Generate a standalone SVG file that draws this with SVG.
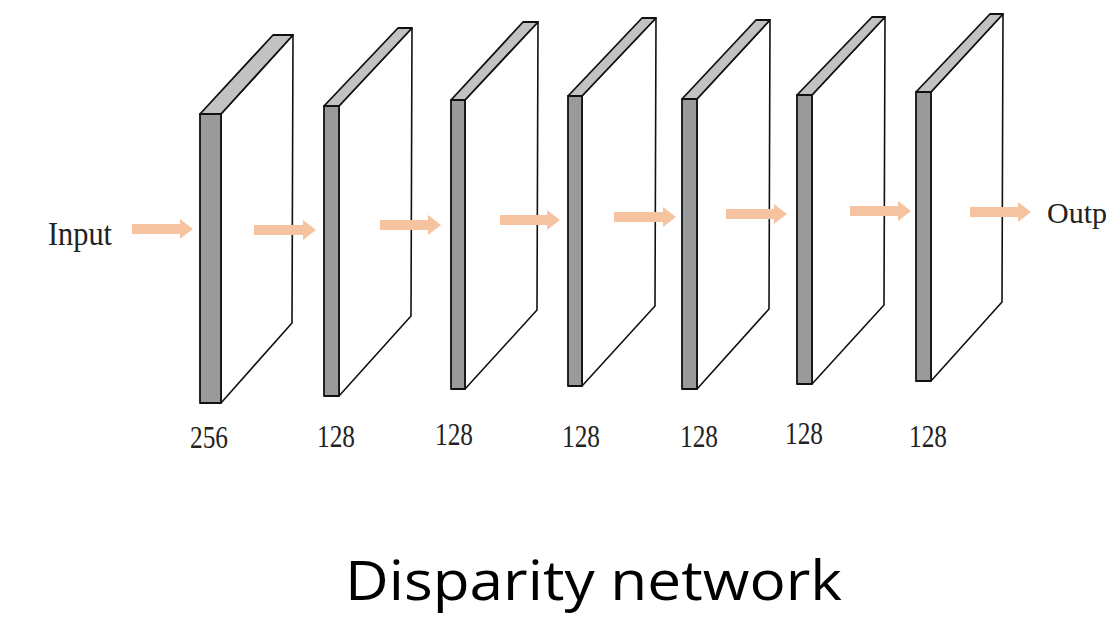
<svg xmlns="http://www.w3.org/2000/svg" width="1109" height="617" viewBox="0 0 1109 617">
<style>
.side{fill:#9a9a9a;stroke:#111;stroke-width:1.8;stroke-linejoin:round}
.top{fill:#c2c2c2;stroke:#111;stroke-width:1.8;stroke-linejoin:round}
.face{fill:#fff;stroke:#111;stroke-width:1.6;stroke-linejoin:round}
.arr{fill:#f6c3a0;stroke:none}
.lbl{font-family:"Liberation Serif","Times New Roman",serif;font-size:31px;fill:#222}
.io{font-family:"Liberation Serif","Times New Roman",serif;font-size:33px;fill:#222}
.out{font-family:"Liberation Serif","Times New Roman",serif;font-size:30px;fill:#222}
.title{font-family:"Open Sans","Liberation Sans",sans-serif;font-size:54px;fill:#000}
</style>
<rect width="1109" height="617" fill="#fff"/>
<g id="layer1">
<polygon class="face" points="221,114 293,35 292,323 221,403"/>
<polygon class="top" points="200,114 221,114 293,35 273,35"/>
<rect class="side" x="200" y="114" width="21" height="289"/>
</g>
<g id="layer2">
<polygon class="face" points="339,106 412,28 411,316 339,396"/>
<polygon class="top" points="324,106 339,106 412,28 398,28"/>
<rect class="side" x="324" y="106" width="15" height="290"/>
</g>
<g id="layer3">
<polygon class="face" points="465,100 538,22 537,310 465,389"/>
<polygon class="top" points="451,100 465,100 538,22 523,22"/>
<rect class="side" x="451" y="100" width="14" height="289"/>
</g>
<g id="layer4">
<polygon class="face" points="582,96 656,18 655,306 582,386"/>
<polygon class="top" points="568,96 582,96 656,18 642,18"/>
<rect class="side" x="568" y="96" width="14" height="290"/>
</g>
<g id="layer5">
<polygon class="face" points="697,99 770,20 769,309 697,389"/>
<polygon class="top" points="682,99 697,99 770,20 756,20"/>
<rect class="side" x="682" y="99" width="15" height="290"/>
</g>
<g id="layer6">
<polygon class="face" points="812,95 885,17 884,305 812,384"/>
<polygon class="top" points="797,95 812,95 885,17 872,17"/>
<rect class="side" x="797" y="95" width="15" height="289"/>
</g>
<g id="layer7">
<polygon class="face" points="931,92 1003,14 1002,302 931,381"/>
<polygon class="top" points="916,92 931,92 1003,14 990,14"/>
<rect class="side" x="916" y="92" width="15" height="289"/>
</g>
<g id="connectors">
<path class="arr" d="M132 224 H180 V219 L193 229 L180 239 V234 H132 Z"/>
<path class="arr" d="M254 225 H303 V220 L316 230 L303 240 V235 H254 Z"/>
<path class="arr" d="M380 220 H428 V215 L441 225 L428 235 V230 H380 Z"/>
<path class="arr" d="M500 215 H547 V210 L560 220 L547 230 V225 H500 Z"/>
<path class="arr" d="M614 212 H663 V207 L676 217 L663 227 V222 H614 Z"/>
<path class="arr" d="M726 209 H774 V204 L787 214 L774 224 V219 H726 Z"/>
<path class="arr" d="M850 206 H898 V201 L911 211 L898 221 V216 H850 Z"/>
<path class="arr" d="M970 207 H1018 V202 L1031 212 L1018 222 V217 H970 Z"/>
</g>
<g id="labels">
<text class="io" x="48" y="245" textLength="64" lengthAdjust="spacingAndGlyphs">Input</text>
<text class="out" x="1047" y="223">Outp</text>
<text class="lbl" x="190" y="448" textLength="38" lengthAdjust="spacingAndGlyphs">256</text>
<text class="lbl" x="317" y="447" textLength="38" lengthAdjust="spacingAndGlyphs">128</text>
<text class="lbl" x="435" y="445" textLength="38" lengthAdjust="spacingAndGlyphs">128</text>
<text class="lbl" x="562" y="447" textLength="38" lengthAdjust="spacingAndGlyphs">128</text>
<text class="lbl" x="680" y="447" textLength="38" lengthAdjust="spacingAndGlyphs">128</text>
<text class="lbl" x="785" y="444" textLength="38" lengthAdjust="spacingAndGlyphs">128</text>
<text class="lbl" x="909" y="447" textLength="38" lengthAdjust="spacingAndGlyphs">128</text>
<text class="title" x="345" y="600" textLength="497" lengthAdjust="spacingAndGlyphs">Disparity network</text>
</g>
</svg>
